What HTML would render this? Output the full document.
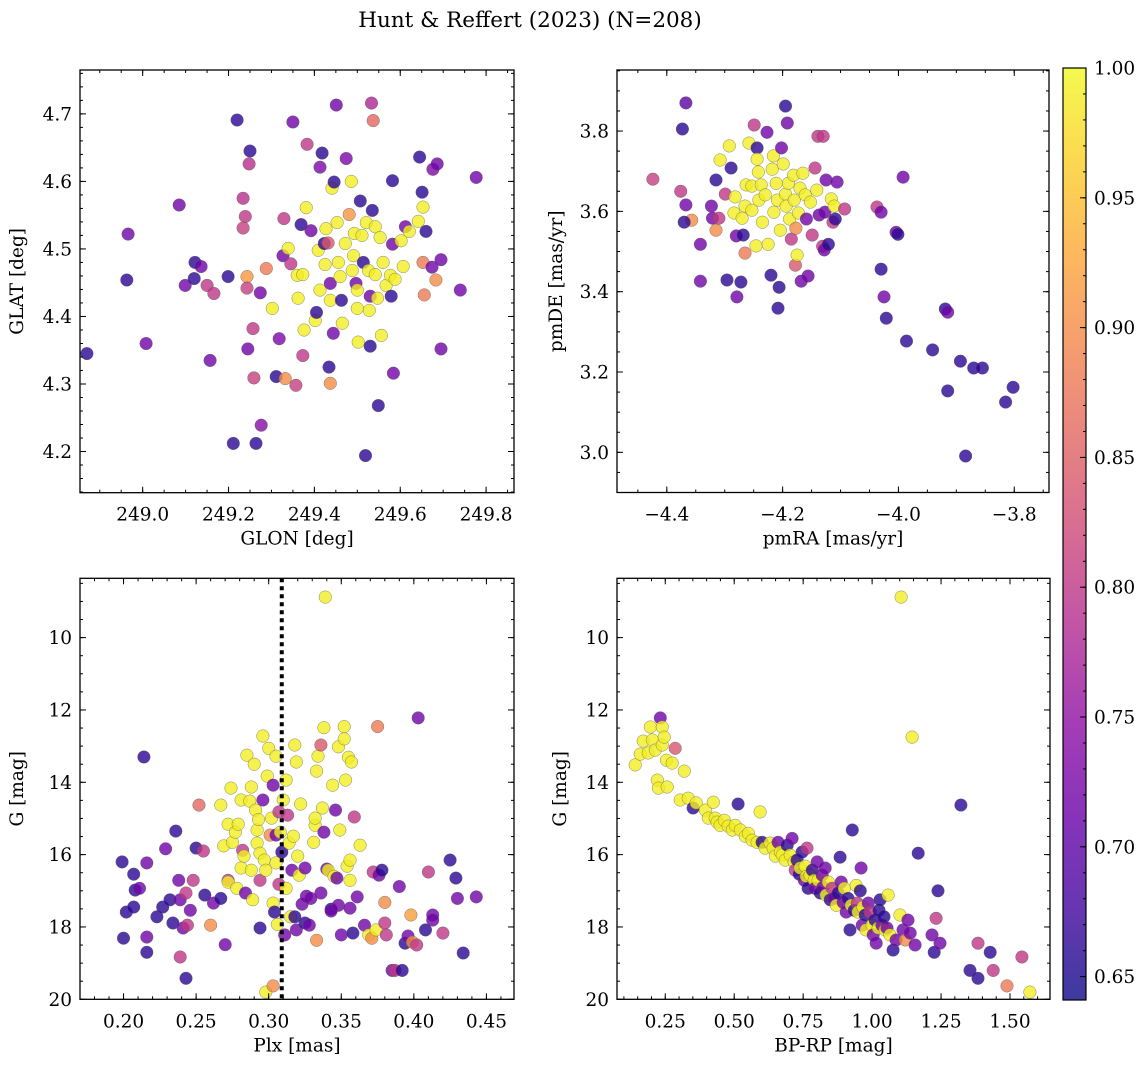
<!DOCTYPE html>
<html><head><meta charset="utf-8">
<style>
html,body{margin:0;padding:0;background:#fff;}
svg{display:block;font-family:"DejaVu Serif","Liberation Serif",serif;}
</style></head>
<body>
<svg id="fig" width="1148" height="1068" viewBox="0 0 1148 1068" xmlns="http://www.w3.org/2000/svg">
<defs>
<linearGradient id="plasmaGrad" x1="0" y1="1" x2="0" y2="0">
<stop offset="0" stop-color="#0d0887"/><stop offset="0.1" stop-color="#41049d"/><stop offset="0.2" stop-color="#6a00a8"/><stop offset="0.3" stop-color="#8f0da4"/><stop offset="0.4" stop-color="#b12a90"/><stop offset="0.5" stop-color="#cc4778"/><stop offset="0.6" stop-color="#e16462"/><stop offset="0.7" stop-color="#f2844b"/><stop offset="0.8" stop-color="#fca636"/><stop offset="0.9" stop-color="#fcce25"/><stop offset="1" stop-color="#f0f921"/>
</linearGradient>
</defs>
<text x="530" y="27" font-size="21.5" text-anchor="middle">Hunt &amp; Reffert (2023) (N=208)</text>
</svg>
<script>
// ---- data: top-left (GLON / GLAT) ----
const tlLon=[248.870,248.966,248.963,249.008,249.085,249.099,249.122,249.120,249.136,249.150,249.157,249.166,249.199,249.211,249.220,249.234,249.239,249.234,249.250,249.248,249.243,249.243,249.257,249.245,249.259,249.264,249.276,249.274,249.288,249.302,249.311,249.318,249.327,249.332,249.329,249.339,249.350,249.345,249.357,249.360,249.362,249.369,249.373,249.376,249.381,249.383,249.373,249.392,249.402,249.405,249.409,249.413,249.418,249.413,249.425,249.427,249.423,249.432,249.437,249.437,249.441,249.446,249.451,249.453,249.456,249.460,249.463,249.465,249.444,249.437,249.434,249.472,249.474,249.481,249.486,249.488,249.491,249.493,249.497,249.500,249.500,249.502,249.507,249.511,249.514,249.519,249.521,249.526,249.528,249.530,249.530,249.533,249.537,249.535,249.542,249.542,249.547,249.549,249.553,249.556,249.560,249.567,249.577,249.579,249.582,249.582,249.584,249.588,249.602,249.607,249.612,249.621,249.642,249.645,249.651,249.653,249.653,249.656,249.660,249.674,249.676,249.683,249.686,249.695,249.695,249.740,249.777];
const tlLat=[4.345,4.522,4.454,4.360,4.565,4.446,4.480,4.456,4.474,4.446,4.335,4.434,4.459,4.212,4.691,4.575,4.548,4.531,4.645,4.626,4.459,4.442,4.382,4.352,4.309,4.212,4.239,4.435,4.471,4.412,4.311,4.367,4.490,4.308,4.545,4.501,4.688,4.478,4.298,4.461,4.427,4.536,4.462,4.380,4.561,4.655,4.342,4.527,4.394,4.406,4.498,4.621,4.642,4.439,4.477,4.530,4.508,4.509,4.449,4.424,4.590,4.599,4.713,4.539,4.480,4.459,4.424,4.390,4.375,4.301,4.325,4.508,4.634,4.551,4.600,4.468,4.490,4.523,4.449,4.439,4.412,4.362,4.571,4.520,4.480,4.194,4.539,4.468,4.409,4.430,4.356,4.716,4.690,4.557,4.533,4.462,4.427,4.268,4.517,4.372,4.480,4.446,4.461,4.430,4.601,4.507,4.316,4.455,4.512,4.474,4.533,4.526,4.541,4.636,4.584,4.562,4.480,4.432,4.526,4.473,4.618,4.454,4.626,4.484,4.352,4.439,4.606];
const tlProb=[0.66,0.72,0.66,0.72,0.72,0.72,0.66,0.66,0.72,0.80,0.72,0.80,0.66,0.66,0.66,0.79,0.80,0.81,0.66,0.79,0.91,0.81,0.80,0.72,0.81,0.66,0.74,0.72,0.88,0.99,0.66,0.73,0.72,0.90,0.80,0.99,0.72,0.80,0.81,0.99,0.99,0.66,0.99,0.99,0.99,0.80,0.80,0.72,0.99,0.66,0.99,0.73,0.66,0.99,0.99,0.99,0.66,0.84,0.72,0.99,0.99,0.66,0.72,0.99,0.99,0.99,0.66,0.99,0.72,0.90,0.66,0.99,0.73,0.91,0.99,0.99,0.99,0.99,0.72,0.99,0.99,0.99,0.66,0.99,0.66,0.66,0.99,0.99,0.99,0.72,0.66,0.78,0.86,0.66,0.99,0.99,0.99,0.66,0.99,0.99,0.99,0.99,0.99,0.66,0.66,0.72,0.72,0.99,0.99,0.99,0.72,0.99,0.99,0.66,0.66,0.99,0.88,0.88,0.66,0.72,0.73,0.90,0.72,0.72,0.72,0.72,0.72];
// ---- data: top-right (pmRA / pmDE) ----
const trRA=[-4.367,-4.373,-4.424,-4.376,-4.367,-4.357,-4.370,-4.342,-4.342,-4.323,-4.321,-4.315,-4.315,-4.310,-4.299,-4.308,-4.296,-4.292,-4.289,-4.282,-4.279,-4.272,-4.284,-4.280,-4.270,-4.265,-4.265,-4.263,-4.268,-4.258,-4.253,-4.249,-4.253,-4.246,-4.244,-4.244,-4.242,-4.241,-4.237,-4.235,-4.230,-4.227,-4.225,-4.220,-4.218,-4.216,-4.215,-4.211,-4.209,-4.208,-4.206,-4.204,-4.202,-4.199,-4.195,-4.195,-4.194,-4.192,-4.190,-4.188,-4.185,-4.181,-4.180,-4.178,-4.177,-4.175,-4.173,-4.170,-4.168,-4.165,-4.161,-4.159,-4.156,-4.152,-4.149,-4.144,-4.141,-4.139,-4.137,-4.131,-4.130,-4.128,-4.127,-4.125,-4.121,-4.116,-4.113,-4.111,-4.106,-4.109,-4.093,-4.037,-4.030,-4.004,-4.001,-3.992,-4.030,-4.025,-4.021,-3.986,-3.941,-3.919,-3.915,-3.915,-3.893,-3.870,-3.855,-3.884,-3.815,-3.802];
const trDE=[3.870,3.805,3.680,3.650,3.616,3.578,3.573,3.518,3.426,3.613,3.583,3.553,3.678,3.583,3.643,3.728,3.429,3.763,3.708,3.636,3.387,3.424,3.596,3.539,3.583,3.613,3.496,3.666,3.541,3.770,3.663,3.815,3.603,3.514,3.758,3.730,3.698,3.628,3.666,3.573,3.641,3.797,3.518,3.441,3.705,3.738,3.598,3.670,3.628,3.359,3.411,3.553,3.758,3.718,3.862,3.643,3.613,3.820,3.670,3.581,3.531,3.690,3.628,3.466,3.558,3.491,3.596,3.658,3.426,3.695,3.641,3.581,3.439,3.623,3.541,3.708,3.653,3.787,3.591,3.513,3.787,3.504,3.598,3.678,3.518,3.631,3.573,3.613,3.673,3.581,3.606,3.611,3.598,3.548,3.543,3.685,3.456,3.387,3.334,3.277,3.255,3.357,3.349,3.153,3.227,3.210,3.210,2.991,3.125,3.162];
const trProb=[0.70,0.66,0.81,0.80,0.72,0.90,0.66,0.72,0.72,0.72,0.72,0.90,0.66,0.80,0.80,0.99,0.66,0.99,0.66,0.99,0.72,0.66,0.99,0.72,0.99,0.99,0.88,0.99,0.66,0.99,0.99,0.80,0.99,0.99,0.66,0.99,0.99,0.99,0.99,0.99,0.99,0.72,0.99,0.66,0.99,0.99,0.99,0.99,0.99,0.66,0.66,0.99,0.72,0.99,0.66,0.99,0.99,0.72,0.99,0.99,0.80,0.99,0.99,0.84,0.90,0.99,0.99,0.99,0.72,0.99,0.99,0.72,0.72,0.99,0.80,0.80,0.99,0.80,0.72,0.80,0.80,0.72,0.72,0.72,0.66,0.99,0.80,0.99,0.72,0.66,0.80,0.80,0.72,0.72,0.66,0.72,0.66,0.72,0.66,0.66,0.66,0.66,0.72,0.66,0.66,0.66,0.66,0.66,0.66,0.66];
// ---- data: bottom-left (Plx / G) ----
const blPlx=[0.2019,0.199,0.200,0.207,0.207,0.208,0.211,0.214,0.216,0.216,0.216,0.223,0.227,0.229,0.232,0.234,0.236,0.238,0.239,0.239,0.241,0.243,0.243,0.244,0.246,0.248,0.250,0.252,0.255,0.256,0.260,0.262,0.267,0.267,0.269,0.270,0.272,0.272,0.272,0.274,0.275,0.277,0.278,0.279,0.281,0.281,0.282,0.283,0.284,0.285,0.287,0.288,0.288,0.289,0.290,0.291,0.292,0.292,0.293,0.294,0.294,0.294,0.296,0.296,0.297,0.298,0.298,0.299,0.300,0.301,0.302,0.303,0.303,0.303,0.304,0.305,0.305,0.305,0.306,0.307,0.307,0.308,0.309,0.310,0.311,0.312,0.312,0.313,0.314,0.315,0.316,0.317,0.318,0.318,0.319,0.319,0.320,0.321,0.322,0.323,0.325,0.325,0.326,0.328,0.329,0.331,0.332,0.332,0.333,0.333,0.334,0.336,0.336,0.337,0.338,0.338,0.339,0.340,0.341,0.343,0.343,0.344,0.345,0.346,0.347,0.348,0.348,0.349,0.350,0.352,0.352,0.353,0.354,0.355,0.356,0.356,0.356,0.357,0.358,0.359,0.361,0.363,0.366,0.369,0.371,0.372,0.374,0.375,0.376,0.378,0.380,0.381,0.380,0.385,0.387,0.390,0.392,0.394,0.396,0.398,0.399,0.402,0.403,0.408,0.410,0.413,0.413,0.420,0.425,0.429,0.430,0.434,0.443];
const blG=[17.59,16.20,18.31,17.45,16.54,16.98,16.93,13.30,16.23,18.28,18.70,17.72,17.45,15.84,17.25,17.89,15.35,16.71,18.83,17.25,18.03,17.06,19.42,17.95,17.54,16.71,15.82,14.63,15.90,17.12,17.95,17.34,17.21,14.63,15.76,18.49,16.71,16.76,15.16,14.16,15.66,15.38,16.93,15.16,16.37,14.49,15.88,16.04,17.06,13.25,14.52,14.13,16.43,17.25,13.50,14.77,15.32,15.68,15.03,15.96,16.71,18.03,12.72,14.49,16.15,19.80,16.43,13.83,13.06,15.46,14.99,17.34,14.08,19.63,17.59,13.28,15.46,16.23,17.93,14.82,16.82,15.38,15.93,14.49,18.22,13.94,16.93,14.91,15.68,17.72,16.43,15.49,12.97,17.72,18.08,13.44,16.04,16.57,14.60,17.37,16.37,17.89,17.15,17.95,17.21,15.66,15.19,14.99,13.69,18.37,13.28,17.06,12.97,14.71,12.49,15.38,8.88,16.40,16.43,17.51,17.56,14.08,16.60,14.77,16.65,13.02,17.40,15.32,18.22,12.46,12.80,13.94,16.32,13.31,17.48,16.71,16.15,13.44,18.17,14.96,17.17,15.74,17.95,18.22,18.31,16.48,18.08,12.46,16.57,16.43,17.89,18.22,17.32,19.20,19.20,16.88,19.20,18.45,18.25,17.67,18.42,18.50,12.22,18.08,16.48,17.67,17.81,18.17,16.15,16.65,17.21,18.72,17.17];
const blProb=[0.66,0.66,0.66,0.66,0.66,0.66,0.72,0.66,0.72,0.72,0.66,0.66,0.66,0.72,0.66,0.66,0.66,0.72,0.80,0.72,0.72,0.80,0.66,0.80,0.72,0.80,0.66,0.86,0.80,0.66,0.90,0.72,0.66,0.99,0.99,0.72,0.80,0.99,0.99,0.99,0.99,0.99,0.99,0.99,0.99,0.99,0.80,0.99,0.72,0.99,0.99,0.99,0.99,0.99,0.99,0.99,0.99,0.99,0.99,0.99,0.80,0.66,0.99,0.72,0.99,0.99,0.99,0.99,0.99,0.90,0.99,0.99,0.72,0.90,0.66,0.99,0.72,0.99,0.99,0.80,0.80,0.99,0.66,0.99,0.72,0.99,0.99,0.80,0.99,0.99,0.72,0.99,0.99,0.66,0.72,0.99,0.99,0.99,0.99,0.72,0.72,0.66,0.72,0.72,0.72,0.99,0.99,0.99,0.99,0.90,0.99,0.72,0.84,0.99,0.99,0.72,0.99,0.72,0.99,0.66,0.72,0.99,0.99,0.72,0.72,0.99,0.72,0.99,0.72,0.99,0.99,0.99,0.99,0.99,0.72,0.99,0.99,0.99,0.66,0.80,0.72,0.99,0.72,0.99,0.90,0.80,0.99,0.88,0.72,0.66,0.80,0.80,0.90,0.72,0.80,0.72,0.66,0.66,0.72,0.92,0.90,0.80,0.72,0.66,0.80,0.72,0.72,0.80,0.66,0.66,0.72,0.66,0.72];
// ---- data: bottom-right (BP-RP / G) ----
const brCol=[0.141,0.159,0.170,0.188,0.196,0.203,0.214,0.221,0.225,0.232,0.239,0.239,0.246,0.254,0.257,0.275,0.286,0.304,0.319,0.333,0.351,0.362,0.395,0.406,0.424,0.431,0.438,0.449,0.464,0.478,0.493,0.504,0.514,0.522,0.540,0.551,0.565,0.583,0.594,0.601,0.612,0.630,0.641,0.649,0.659,0.667,0.674,0.685,0.692,0.703,0.710,0.717,0.721,0.728,0.736,0.739,0.746,0.754,0.757,0.761,0.764,0.768,0.775,0.783,0.790,0.793,0.801,0.804,0.812,0.819,0.822,0.830,0.833,0.841,0.848,0.855,0.862,0.870,0.877,0.884,0.888,0.895,0.899,0.906,0.913,0.920,0.924,0.928,0.935,0.942,0.946,0.949,0.957,0.960,0.964,0.967,0.975,0.978,0.986,0.993,1.000,1.004,1.011,1.015,1.022,1.025,1.029,1.036,1.043,1.047,1.054,1.058,1.065,1.076,1.087,1.101,1.105,1.112,1.120,1.130,1.138,1.145,1.156,1.167,1.217,1.225,1.232,1.246,1.239,1.322,1.355,1.384,1.384,1.428,1.439,1.489,1.543,1.572];
const brG=[13.52,13.22,12.86,13.19,12.47,12.83,13.11,13.94,14.16,12.22,12.47,12.97,12.75,13.39,14.13,13.47,13.06,14.49,13.69,14.44,14.71,14.57,14.77,14.99,14.55,14.99,15.10,15.19,15.05,15.21,15.32,15.19,14.60,15.32,15.49,15.41,15.60,15.66,14.82,15.66,15.82,15.68,15.82,16.04,15.66,15.93,16.01,16.15,15.74,16.01,15.55,16.20,16.43,16.15,16.54,16.37,15.93,16.71,16.32,16.60,15.82,16.93,16.57,16.43,16.71,16.93,16.20,16.71,17.06,16.57,16.90,16.37,17.12,16.76,17.25,16.93,17.21,17.40,17.06,16.07,16.76,17.32,16.93,17.59,17.21,18.08,17.40,15.32,17.54,16.85,17.34,17.59,17.00,16.37,17.95,17.45,17.67,18.08,17.34,17.59,17.95,18.22,17.81,18.45,18.03,17.54,17.25,17.95,17.72,18.08,18.03,17.12,18.22,18.64,18.36,17.67,8.88,18.08,18.36,17.81,18.17,12.75,18.50,15.96,18.22,18.70,17.76,18.45,17.00,14.63,19.20,18.45,19.42,18.70,19.20,19.63,18.83,19.80];
const brProb=[0.99,0.99,0.99,0.99,0.99,0.99,0.99,0.99,0.99,0.72,0.99,0.99,0.99,0.99,0.99,0.99,0.84,0.99,0.99,0.99,0.66,0.99,0.99,0.99,0.99,0.99,0.99,0.99,0.99,0.99,0.99,0.99,0.66,0.99,0.99,0.99,0.99,0.99,0.99,0.66,0.99,0.99,0.99,0.99,0.72,0.99,0.99,0.99,0.66,0.99,0.72,0.99,0.80,0.66,0.66,0.99,0.66,0.72,0.99,0.99,0.80,0.66,0.99,0.66,0.99,0.72,0.72,0.99,0.66,0.72,0.72,0.72,0.99,0.99,0.66,0.80,0.72,0.99,0.66,0.66,0.72,0.72,0.99,0.72,0.66,0.66,0.99,0.66,0.66,0.99,0.80,0.99,0.66,0.72,0.72,0.99,0.66,0.99,0.72,0.80,0.99,0.72,0.66,0.72,0.99,0.66,0.66,0.72,0.66,0.99,0.72,0.99,0.99,0.66,0.72,0.99,0.99,0.72,0.90,0.72,0.72,0.99,0.72,0.66,0.72,0.66,0.80,0.72,0.66,0.66,0.66,0.80,0.66,0.66,0.80,0.88,0.80,0.99];
// ---- tick labels ----
const tlXTicks=[249.0,249.2,249.4,249.6,249.8];
const tlYTicks=[4.2,4.3,4.4,4.5,4.6,4.7];
const trXTicks=[-4.4,-4.2,-4.0,-3.8];
const trYTicks=[3.0,3.2,3.4,3.6,3.8];
const blXTicks=[0.20,0.25,0.30,0.35,0.40,0.45];
const gTicks=[10,12,14,16,18,20];
const brXTicks=[0.25,0.50,0.75,1.00,1.25,1.50];
const cbTicks=[0.65,0.70,0.75,0.80,0.85,0.90,0.95,1.00];
const plxLine=0.309;

const NS="http://www.w3.org/2000/svg";
const svg=document.getElementById('fig');
function el(tag,attrs,parent){const e=document.createElementNS(NS,tag);for(const k in attrs)e.setAttribute(k,attrs[k]);(parent||svg).appendChild(e);return e;}
const vmin=0.641,vmax=1.0;
const stops=["#0d0887","#41049d","#6a00a8","#8f0da4","#b12a90","#cc4778","#e16462","#f2844b","#fca636","#fcce25","#f0f921"].map(h=>[parseInt(h.substr(1,2),16),parseInt(h.substr(3,2),16),parseInt(h.substr(5,2),16)]);
function plasma(v){let t=Math.max(0,Math.min(1,(v-vmin)/(vmax-vmin)))*10;const i=Math.min(9,Math.floor(t)),f=t-i;const a=stops[i],b=stops[i+1];return `rgb(${Math.round(a[0]+(b[0]-a[0])*f)},${Math.round(a[1]+(b[1]-a[1])*f)},${Math.round(a[2]+(b[2]-a[2])*f)})`;}
function lin(d0,d1,p0,p1){return v=>p0+(v-d0)*(p1-p0)/(d1-d0);}
const TICKFS=18.5, LABFS=18.5;

function panel(cfg){
  const g=el('g',{});
  
  
  const {L,T,R,B}=cfg;
  const sx=lin(cfg.xd[0],cfg.xd[1],L,R), sy=lin(cfg.yd[0],cfg.yd[1],B,T);
  const clipId=cfg.name+'-clip';
  const cp=el('clipPath',{id:clipId},g);el('rect',{x:L,y:T,width:R-L,height:B-T},cp);
  const pts=el('g',{'clip-path':`url(#${clipId})`},g);
  
  
  for(let i=0;i<cfg.xs.length;i++){
    const c=el('circle',{cx:sx(cfg.xs[i]).toFixed(1),cy:sy(cfg.ys[i]).toFixed(1),r:6.3,fill:plasma(cfg.ps[i]),'fill-opacity':0.8,stroke:'#555','stroke-width':0.5,'stroke-opacity':0.7},pts);
    
    
  }
  if(cfg.vline!==undefined){
    const ln=el('line',{x1:sx(cfg.vline),x2:sx(cfg.vline),y1:T,y2:B,stroke:'#000','stroke-width':4,'stroke-dasharray':'4,4'},pts);
    
    
  }
  const fr=el('rect',{x:L,y:T,width:R-L,height:B-T,fill:'none',stroke:'#000','stroke-width':1.3},g);
  
  
  const tg=el('g',{stroke:'#000','stroke-width':1},g);
  const [x0,x1]=[Math.min(...cfg.xd),Math.max(...cfg.xd)],[y0,y1]=[Math.min(...cfg.yd),Math.max(...cfg.yd)];
  function ticksX(step,len){for(let v=Math.ceil(x0/step-1e-6)*step;v<=x1+1e-9;v+=step){const x=sx(v);el('line',{x1:x,x2:x,y1:B,y2:B-len},tg);el('line',{x1:x,x2:x,y1:T,y2:T+len},tg);}}
  function ticksY(step,len){for(let v=Math.ceil(y0/step-1e-6)*step;v<=y1+1e-9;v+=step){const y=sy(v);el('line',{x1:L,x2:L+len,y1:y,y2:y},tg);el('line',{x1:R,x2:R-len,y1:y,y2:y},tg);}}
  ticksX(cfg.xminor,3);ticksY(cfg.yminor,3);
  cfg.xt.forEach(v=>{const x=sx(v);el('line',{x1:x,x2:x,y1:B,y2:B-6},tg);el('line',{x1:x,x2:x,y1:T,y2:T+6},tg);
    const t=el('text',{x:x,y:B+28,'font-size':TICKFS,'text-anchor':'middle'},g);t.textContent=(v<0?'\u2212':'')+Math.abs(v).toFixed(cfg.xdec);
    });
  cfg.yt.forEach(v=>{const y=sy(v);el('line',{x1:L,x2:L+6,y1:y,y2:y},tg);el('line',{x1:R,x2:R-6,y1:y,y2:y},tg);
    const t=el('text',{x:L-8,y:y+6.5,'font-size':TICKFS,'text-anchor':'end'},g);t.textContent=v.toFixed(cfg.ydec);
    });
  const xl=el('text',{x:(L+R)/2,y:B+52,'font-size':LABFS,'text-anchor':'middle'},g);xl.textContent=cfg.xlabel;
  
  const yx=cfg.ylx, yy=(T+B)/2;
  const yl=el('text',{x:yx,y:yy,'font-size':LABFS,'text-anchor':'middle',transform:`rotate(-90 ${yx} ${yy})`},g);yl.textContent=cfg.ylabel;
  
}
panel({name:'glon-glat-panel',L:80,T:70,R:514,B:492.7,xd:[248.854,249.865],yd:[4.139,4.765],xs:tlLon,ys:tlLat,ps:tlProb,xt:tlXTicks,yt:tlYTicks,xminor:0.05,yminor:0.02,xdec:1,ydec:1,xlabel:'GLON [deg]',ylabel:'GLAT [deg]',ylx:23});
panel({name:'pm-panel',L:617,T:70,R:1049,B:492.5,xd:[-4.486,-3.74],yd:[2.90,3.952],xs:trRA,ys:trDE,ps:trProb,xt:trXTicks,yt:trYTicks,xminor:0.05,yminor:0.05,xdec:1,ydec:1,xlabel:'pmRA [mas/yr]',ylabel:'pmDE [mas/yr]',ylx:562});
panel({name:'plx-g-panel',L:80,T:578.3,R:514,B:999.3,xd:[0.170,0.469],yd:[20.0,8.36],xs:blPlx,ys:blG,ps:blProb,xt:blXTicks,yt:gTicks,xminor:0.01,yminor:0.5,xdec:2,ydec:0,xlabel:'Plx [mas]',ylabel:'G [mag]',ylx:23,vline:plxLine});
panel({name:'cmd-panel',L:617,T:578.3,R:1050,B:999.3,xd:[0.075,1.645],yd:[20.0,8.36],xs:brCol,ys:brG,ps:brProb,xt:brXTicks,yt:gTicks,xminor:0.05,yminor:0.5,xdec:2,ydec:0,xlabel:'BP-RP [mag]',ylabel:'G [mag]',ylx:566});
const cb=el('g',{});


const cL=1063,cR=1086,cT=68,cB=1000;
el('rect',{x:cL,y:cT,width:cR-cL,height:cB-cT,fill:'url(#plasmaGrad)','fill-opacity':0.8},cb);
el('rect',{x:cL,y:cT,width:cR-cL,height:cB-cT,fill:'none',stroke:'#000','stroke-width':1.2},cb);
const cy=lin(vmin,vmax,cB,cT);
for(let v=0.65;v<=1.0001;v+=0.01){el('line',{x1:cR,x2:cR-3,y1:cy(v),y2:cy(v),stroke:'#000','stroke-width':1},cb);}
cbTicks.forEach(v=>{const y=cy(v);el('line',{x1:cR,x2:cR-6,y1:y,y2:y,stroke:'#000','stroke-width':1},cb);
  const t=el('text',{x:cR+8,y:y+6.5,'font-size':TICKFS},cb);t.textContent=v.toFixed(2);
  });
</script>
</body></html>
